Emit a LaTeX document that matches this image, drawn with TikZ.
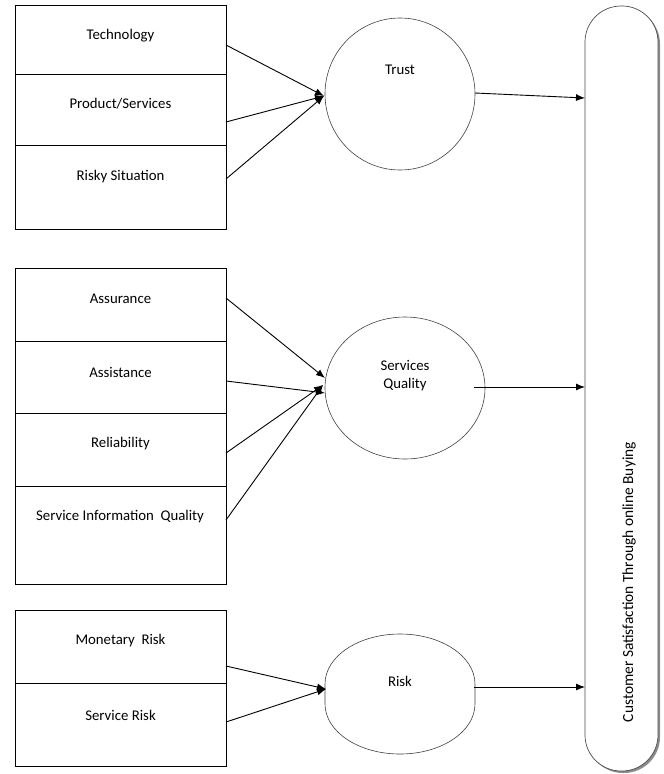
\documentclass[tikz,border=0pt]{standalone}
\usepackage{fontspec}
\setmainfont{Carlito}
\usetikzlibrary{arrows.meta,shapes.geometric,calc}
\begin{document}
\begin{tikzpicture}[x=1pt,y=-1pt,
 cell/.style={draw, line width=0.9pt, minimum width=211pt, anchor=north west, inner sep=0pt},
 lbl/.style={font=\fontsize{14.8}{18}\selectfont, anchor=center, inner sep=0pt, align=center},
 conn/.style={line width=0.9pt, -{Latex[length=9pt,width=7pt]}},
 outline/.style={line width=0.6pt, draw=black!75},
 oval/.style={draw, ellipse, outline, inner sep=0pt}]
\useasboundingbox (0,0) rectangle (664,774);
% group 1
\node[cell, minimum height=69pt] (c1) at (15,5) {};
\node[cell, minimum height=71pt] (c2) at (15,74) {};
\node[cell, minimum height=84pt] (c3) at (15,145) {};
\node[lbl] (l1) at (120.5,36) {Technology};
\node[lbl] (l2) at (120.5,104) {Product/Services};
\node[lbl] (l3) at (120.5,177) {Risky Situation};
% group 2
\node[cell, minimum height=73pt] (c4) at (15,268) {};
\node[cell, minimum height=72pt] (c5) at (15,341) {};
\node[cell, minimum height=73pt] (c6) at (15,413) {};
\node[cell, minimum height=98pt] (c7) at (15,486) {};
\node[lbl] (l4) at (120.5,299) {Assurance};
\node[lbl] (l5) at (120.5,372) {Assistance};
\node[lbl] (l6) at (120.5,444) {Reliability};
\node[lbl] (l7) at (120,517) {Service Information~ Quality};
% group 3
\node[cell, minimum height=73pt] (c8) at (15,610) {};
\node[cell, minimum height=83pt] (c9) at (15,683) {};
\node[lbl] (l8) at (120.5,641) {Monetary~ Risk};
\node[lbl] (l9) at (120.5,715) {Service Risk};
% constructs
\node[oval, minimum width=150pt, minimum height=152pt] (trust) at (400,94) {};
\node[lbl] (trustl) at (400,70) {Trust};
\node[oval, minimum width=160pt, minimum height=142pt] (sq) at (405,388) {};
\node[lbl] (sql) at (405,376) {Services\\Quality};
\node[minimum width=150pt, minimum height=120pt, inner sep=0pt] (risk) at (400,694) {};
\draw[outline] (risk.center) ++(-75,-10) -- ++(0,20)
  arc[start angle=180, end angle=360, x radius=75pt, y radius=50pt] -- ++(0,-20)
  arc[start angle=0, end angle=180, x radius=75pt, y radius=50pt] -- cycle;
\node[lbl] (riskl) at (400,681) {Risk};
% outcome pill
\fill[black!45, rounded corners=36pt] (587,8) rectangle (660,773);
\node[draw, fill=white, line width=0.7pt, draw=black!70, rounded corners=36pt, minimum width=73pt, minimum height=765pt, inner sep=0pt] (cs) at (621.5,388.5) {};
\node[lbl, rotate=90, font=\fontsize{15.4}{18}\selectfont] (csl) at (629,582) {Customer Satisfaction Through online Buying};
% connector coordinates
\coordinate (s1) at (226,45);
\coordinate (s2) at (226,122);
\coordinate (s3) at (226,179);
\coordinate (tT) at (324,96);
\coordinate (s4) at (226,298);
\coordinate (s5) at (226,381);
\coordinate (s6) at (226,453);
\coordinate (s7) at (226,520);
\coordinate (tQa) at (325,378);
\coordinate (tQb) at (325,393);
\coordinate (tQc) at (323,385);
\coordinate (s8) at (226,666);
\coordinate (s9) at (226,722);
\coordinate (tR) at (326,689);
\coordinate (o1) at (475,93);
\coordinate (e1) at (585,98);
\coordinate (o2) at (474,387);
\coordinate (e2) at (585,387);
\coordinate (o3) at (474,687);
\coordinate (e3) at (585,687);
\draw[conn] (s1) -- (tT);
\draw[conn] (s2) -- (tT);
\draw[conn] (s3) -- (tT);
\draw[conn] (s4) -- (tQa);
\draw[conn] (s5) -- (tQb);
\draw[conn] (s6) -- (tQc);
\draw[conn] (s7) -- (tQc);
\draw[conn] (s8) -- (tR);
\draw[conn] (s9) -- (tR);
\draw[conn] (o1) -- (e1);
\draw[conn] (o2) -- (e2);
\draw[conn] (o3) -- (e3);
\end{tikzpicture}
\end{document}
